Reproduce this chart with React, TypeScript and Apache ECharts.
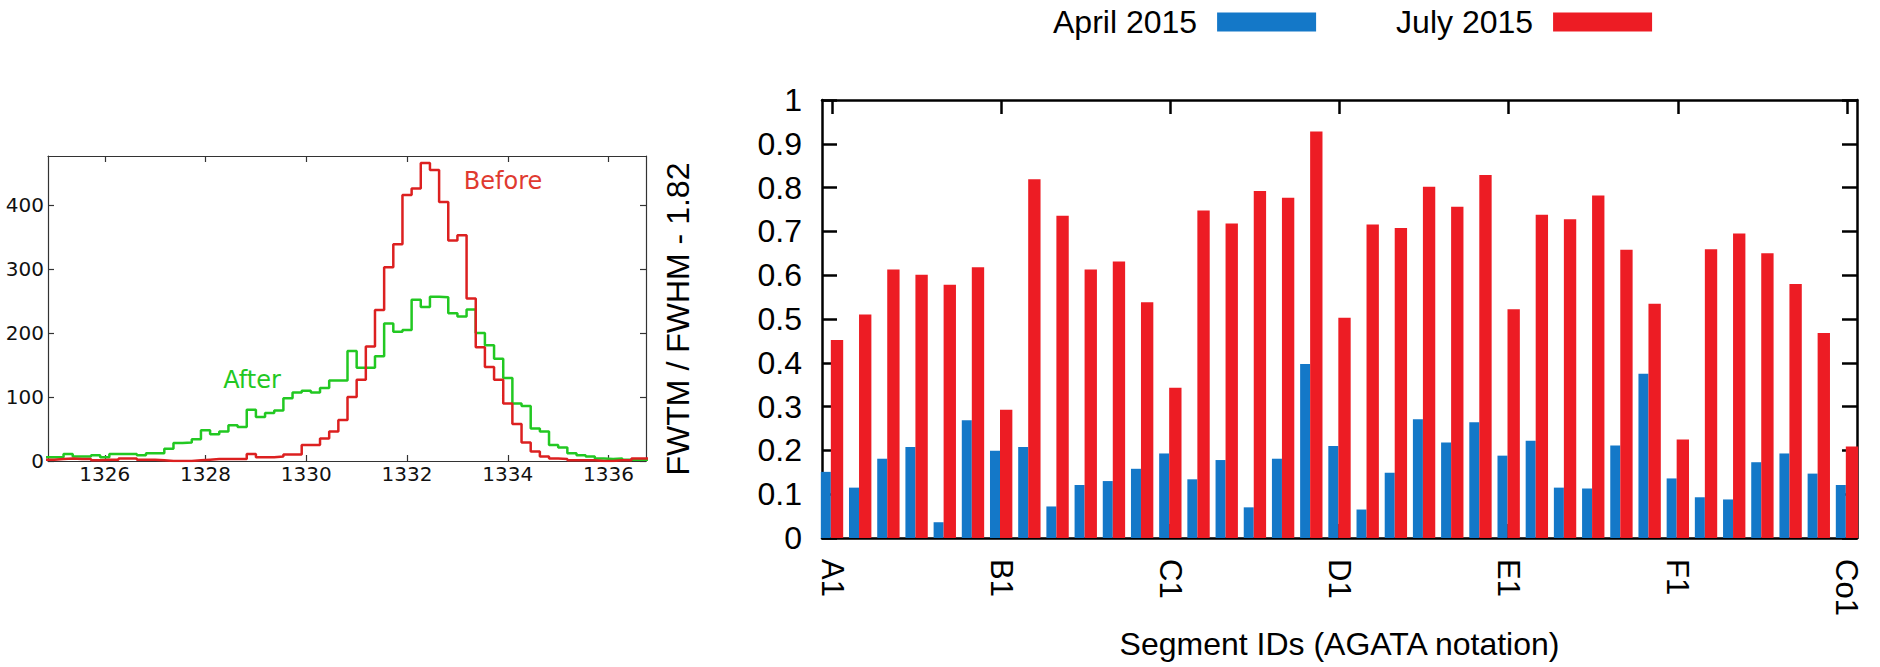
import React, { useEffect, useRef } from 'react';
import * as echarts from 'echarts';

// ---------- Left panel: 1332 keV peak histogram ----------
const histBinStart = 1324.818; // keV, left edge of the first bin
const histBinWidth = 2 / 11; // keV
const histXRange = [1324.873, 1336.743];
const histYMax = 477;
const histXTicks = [1326, 1328, 1330, 1332, 1334, 1336];
const histYTicks = [0, 100, 200, 300, 400];

const beforeCounts = [
  2, 3, 4, 3, 3, 1, 2, 2, 4, 4, 2, 2, 1, 0, 0, 0, 1, 2, 3, 3, 3, 3,
  11, 6, 6, 7, 10, 10, 25, 25, 35, 46, 64, 100, 127, 179, 236, 303, 339, 416, 426, 466,
  455, 405, 345, 353, 254, 178, 147, 127, 90, 58, 29, 15, 7, 4, 3, 1, 1, 1, 0, 0, 1, 1, 4, 4,
];
const afterCounts = [
  6, 6, 11, 7, 7, 9, 6, 11, 11, 11, 9, 12, 12, 19, 28, 29, 34, 48, 42, 46, 56, 53,
  80, 69, 75, 79, 98, 107, 110, 107, 114, 126, 126, 172, 146, 146, 164, 215, 202, 205, 252, 241,
  257, 256, 231, 226, 237, 200, 181, 160, 130, 90, 86, 51, 46, 25, 21, 12, 9, 7, 4, 3, 4, 2, 2, 2,
];

// ---------- Right panel: FWTM/FWHM per segment ----------
const segmentIds = [
  'A1', 'A2', 'A3', 'A4', 'A5', 'A6',
  'B1', 'B2', 'B3', 'B4', 'B5', 'B6',
  'C1', 'C2', 'C3', 'C4', 'C5', 'C6',
  'D1', 'D2', 'D3', 'D4', 'D5', 'D6',
  'E1', 'E2', 'E3', 'E4', 'E5', 'E6',
  'F1', 'F2', 'F3', 'F4', 'F5', 'F6',
  'Co1',
];
const labelledSegments = ['A1', 'B1', 'C1', 'D1', 'E1', 'F1', 'Co1'];
const april2015 = [
  0.151, 0.115, 0.181, 0.208, 0.036, 0.269,
  0.199, 0.208, 0.072, 0.121, 0.130, 0.158,
  0.193, 0.134, 0.178, 0.070, 0.181, 0.397,
  0.210, 0.065, 0.149, 0.271, 0.218, 0.264,
  0.188, 0.222, 0.115, 0.113, 0.211, 0.375,
  0.136, 0.093, 0.088, 0.173, 0.193, 0.147,
  0.121,
];
const july2015 = [
  0.452, 0.510, 0.613, 0.601, 0.578, 0.618,
  0.293, 0.819, 0.736, 0.613, 0.631, 0.538,
  0.343, 0.748, 0.718, 0.792, 0.777, 0.928,
  0.503, 0.716, 0.708, 0.802, 0.756, 0.829,
  0.522, 0.738, 0.728, 0.782, 0.658, 0.535,
  0.225, 0.659, 0.695, 0.650, 0.580, 0.468,
  0.209,
];

const SANS = '"Liberation Sans", Arial, Helvetica, sans-serif';
const MPL = '"DejaVu Sans", sans-serif';

function stepData(counts: number[]) {
  const pts = counts.map((v, k) => [histBinStart + k * histBinWidth, v]);
  pts.push([histBinStart + counts.length * histBinWidth, counts[counts.length - 1]]);
  return pts;
}

export default function App() {
  const ref = useRef<HTMLDivElement>(null);

  useEffect(() => {
    if (!ref.current) return;
    const chart = echarts.init(ref.current, null, { renderer: 'svg' });

    const segTickValues = labelledSegments.map((s) => segmentIds.indexOf(s));
    const frameL = { color: '#333', width: 1.2 };
    const frameR = { color: '#000', width: 2.5 };

    const option: any = {
      animation: false,
      backgroundColor: '#ffffff',
      grid: [
        { left: 48, top: 156, width: 598, height: 305 },
        { left: 822, top: 100, width: 1035, height: 438 },
      ],
      legend: {
        data: ['April 2015', 'July 2015'],
        left: 1053,
        top: 6,
        padding: 0,
        align: 'right',
        icon: 'rect',
        itemWidth: 99,
        itemHeight: 19,
        itemGap: 80,
        textStyle: { fontSize: 32, fontFamily: SANS, color: '#000', padding: [0, 15, 0, 0] },
      },
      xAxis: [
        {
          gridIndex: 0, type: 'value', position: 'bottom',
          min: histXRange[0], max: histXRange[1],
          axisLine: { show: true, onZero: false, lineStyle: frameL },
          axisTick: { show: true, inside: true, length: 6, customValues: histXTicks, lineStyle: frameL },
          axisLabel: {
            customValues: histXTicks, formatter: (v: number) => String(v),
            fontSize: 20, fontFamily: MPL, color: '#111', margin: 3,
          },
          splitLine: { show: false },
        },
        {
          gridIndex: 0, type: 'value', position: 'top',
          min: histXRange[0], max: histXRange[1],
          axisLine: { show: true, onZero: false, lineStyle: frameL },
          axisTick: { show: true, inside: true, length: 6, customValues: histXTicks, lineStyle: frameL },
          axisLabel: { show: false },
          splitLine: { show: false },
        },
        {
          gridIndex: 1, type: 'value', position: 'bottom',
          min: -0.355, max: segmentIds.length - 1 + 0.355,
          name: 'Segment IDs (AGATA notation)',
          nameLocation: 'middle', nameGap: 90,
          nameTextStyle: { fontSize: 32, fontFamily: SANS, color: '#000' },
          axisLine: { show: true, onZero: false, lineStyle: frameR },
          axisTick: { show: true, inside: true, length: 14, customValues: segTickValues, lineStyle: frameR },
          axisLabel: {
            customValues: segTickValues,
            formatter: (v: number) => segmentIds[Math.round(v)] ?? '',
            rotate: -90, fontSize: 31, fontFamily: SANS, color: '#000', margin: 21,
          },
          splitLine: { show: false },
        },
        {
          gridIndex: 1, type: 'value', position: 'top',
          min: -0.355, max: segmentIds.length - 1 + 0.355,
          axisLine: { show: true, onZero: false, lineStyle: frameR },
          axisTick: { show: true, inside: true, length: 14, customValues: segTickValues, lineStyle: frameR },
          axisLabel: { show: false },
          splitLine: { show: false },
        },
      ],
      yAxis: [
        {
          gridIndex: 0, type: 'value', position: 'left', min: 0, max: histYMax,
          axisLine: { show: true, onZero: false, lineStyle: frameL },
          axisTick: { show: true, inside: true, length: 6, customValues: histYTicks, lineStyle: frameL },
          axisLabel: {
            customValues: histYTicks, formatter: (v: number) => String(v),
            fontSize: 20, fontFamily: MPL, color: '#111', margin: 4,
          },
          splitLine: { show: false },
        },
        {
          gridIndex: 0, type: 'value', position: 'right', min: 0, max: histYMax,
          axisLine: { show: true, onZero: false, lineStyle: frameL },
          axisTick: { show: true, inside: true, length: 6, customValues: histYTicks, lineStyle: frameL },
          axisLabel: { show: false },
          splitLine: { show: false },
        },
        {
          gridIndex: 1, type: 'value', position: 'left', min: 0, max: 1, interval: 0.1,
          name: 'FWTM / FWHM - 1.82',
          nameLocation: 'middle', nameRotate: 90, nameGap: 128,
          nameTextStyle: { fontSize: 32, fontFamily: SANS, color: '#000' },
          axisLine: { show: true, onZero: false, lineStyle: frameR },
          axisTick: { show: true, inside: true, length: 15, lineStyle: frameR },
          axisLabel: { fontSize: 32, fontFamily: SANS, color: '#000', margin: 20 },
          splitLine: { show: false },
        },
        {
          gridIndex: 1, type: 'value', position: 'right', min: 0, max: 1, interval: 0.1,
          axisLine: { show: true, onZero: false, lineStyle: frameR },
          axisTick: { show: true, inside: true, length: 15, lineStyle: frameR },
          axisLabel: { show: false },
          splitLine: { show: false },
        },
      ],
      series: [
        {
          name: 'Before', type: 'line', step: 'end', xAxisIndex: 0, yAxisIndex: 0,
          data: stepData(beforeCounts), showSymbol: false, symbol: 'none',
          lineStyle: { color: '#dc2020', width: 2.5 }, itemStyle: { color: '#dc2020' },
          clip: true, z: 3,
        },
        {
          name: 'After', type: 'line', step: 'end', xAxisIndex: 0, yAxisIndex: 0,
          data: stepData(afterCounts), showSymbol: false, symbol: 'none',
          lineStyle: { color: '#22c822', width: 2.5 }, itemStyle: { color: '#22c822' },
          clip: true, z: 2,
        },
        {
          name: 'April 2015', type: 'bar', xAxisIndex: 2, yAxisIndex: 2,
          data: april2015.map((v, i) => [i, v]),
          barWidth: '35.5%', barGap: '0%',
          itemStyle: { color: '#1478c8' },
        },
        {
          name: 'July 2015', type: 'bar', xAxisIndex: 2, yAxisIndex: 2,
          data: july2015.map((v, i) => [i, v]),
          barWidth: '43.8%', barGap: '0%',
          itemStyle: { color: '#ed1c24' },
        },
      ],
      graphic: [
        {
          type: 'text', x: 503, y: 181,
          style: {
            text: 'Before', fill: '#e03a30', font: `24px ${MPL}`,
            textAlign: 'center', textVerticalAlign: 'middle',
          },
        },
        {
          type: 'text', x: 252, y: 380,
          style: {
            text: 'After', fill: '#22c822', font: `24px ${MPL}`,
            textAlign: 'center', textVerticalAlign: 'middle',
          },
        },
      ],
    };

    chart.setOption(option);
    return () => chart.dispose();
  }, []);

  return (
    <div
      ref={ref}
      style={{ position: 'fixed', left: 0, top: 0, width: 1880, height: 667, background: '#fff' }}
    />
  );
}
